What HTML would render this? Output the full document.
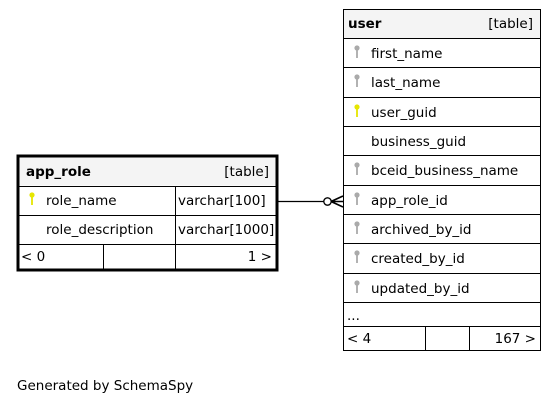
<!DOCTYPE html>
<html><head><meta charset="utf-8"><style>
html,body{margin:0;padding:0;background:#fff;}
svg{display:block;font-family:"DejaVu Sans","Liberation Sans",sans-serif;}
</style></head><body>
<svg width="557" height="407" viewBox="0 0 557 407" xmlns="http://www.w3.org/2000/svg">
<defs>
<g id="key"><circle cx="0" cy="-3" r="2.6"/><rect x="-0.9" y="-1" width="1.8" height="8"/></g>
</defs>
<!-- app_role -->
<rect x="18" y="156" width="259" height="114" fill="#fff" stroke="#000" stroke-width="3"/>
<rect x="19.5" y="157.5" width="256" height="28" fill="#f4f4f4"/>
<g stroke="#000" stroke-width="1">
<line x1="18" y1="186.5" x2="277" y2="186.5"/>
<line x1="18" y1="215.5" x2="277" y2="215.5"/>
<line x1="18" y1="244.5" x2="277" y2="244.5"/>
<line x1="175.5" y1="186" x2="175.5" y2="270"/>
<line x1="103.5" y1="244" x2="103.5" y2="270"/>
</g>
<g font-size="13.5" fill="#000">
<text x="26" y="176" font-weight="bold">app_role</text>
<text x="269" y="176" text-anchor="end">[table]</text>
<text x="46" y="205">role_name</text>
<text x="178" y="205">varchar[100]</text>
<text x="46" y="234">role_description</text>
<text x="178" y="234">varchar[1000]</text>
<text x="21" y="261">&lt; 0</text>
<text x="272" y="261" text-anchor="end">1 &gt;</text>
</g>
<use href="#key" x="32" y="198" fill="#e6e600"/>
<!-- connector -->
<line x1="278" y1="201.5" x2="324" y2="201.5" stroke="#000" stroke-width="1.3"/>
<circle cx="327.5" cy="201.5" r="3.7" fill="#fff" stroke="#000" stroke-width="1.3"/>
<path d="M331 201.5 L343 196 M331 201.5 L343 207 M331 201.5 L343 201.5" stroke="#000" stroke-width="1.6" fill="none"/>
<!-- user -->
<rect x="343.5" y="9.5" width="197" height="341" fill="#fff" stroke="#000" stroke-width="1"/>
<rect x="344" y="10" width="196" height="28" fill="#f4f4f4"/>
<g stroke="#000" stroke-width="1">
<line x1="343" y1="38.5" x2="541" y2="38.5"/>
<line x1="343" y1="67.5" x2="541" y2="67.5"/>
<line x1="343" y1="97.5" x2="541" y2="97.5"/>
<line x1="343" y1="126.5" x2="541" y2="126.5"/>
<line x1="343" y1="155.5" x2="541" y2="155.5"/>
<line x1="343" y1="185.5" x2="541" y2="185.5"/>
<line x1="343" y1="214.5" x2="541" y2="214.5"/>
<line x1="343" y1="243.5" x2="541" y2="243.5"/>
<line x1="343" y1="273.5" x2="541" y2="273.5"/>
<line x1="343" y1="302.5" x2="541" y2="302.5"/>
<line x1="343" y1="326.5" x2="541" y2="326.5"/>
<line x1="425.5" y1="327" x2="425.5" y2="351"/>
<line x1="469.5" y1="327" x2="469.5" y2="351"/>
</g>
<g font-size="13.5" fill="#000">
<text x="348" y="28" font-weight="bold">user</text>
<text x="533" y="28" text-anchor="end">[table]</text>
<text x="371" y="58">first_name</text>
<text x="371" y="87">last_name</text>
<text x="371" y="117">user_guid</text>
<text x="371" y="146">business_guid</text>
<text x="371" y="175">bceid_business_name</text>
<text x="371" y="205">app_role_id</text>
<text x="371" y="234">archived_by_id</text>
<text x="371" y="263">created_by_id</text>
<text x="371" y="293">updated_by_id</text>
<text x="347" y="320">...</text>
<text x="347" y="343">&lt; 4</text>
<text x="536" y="343" text-anchor="end">167 &gt;</text>
</g>
<g fill="#aaa">
<use href="#key" x="357" y="51"/>
<use href="#key" x="357" y="80"/>
<use href="#key" x="357" y="168"/>
<use href="#key" x="357" y="198"/>
<use href="#key" x="357" y="227"/>
<use href="#key" x="357" y="256"/>
<use href="#key" x="357" y="286"/>
</g>
<use href="#key" x="357" y="110" fill="#e6e600"/>
<text x="17" y="390" font-size="13.5" fill="#000">Generated by SchemaSpy</text>
</svg>
</body></html>
